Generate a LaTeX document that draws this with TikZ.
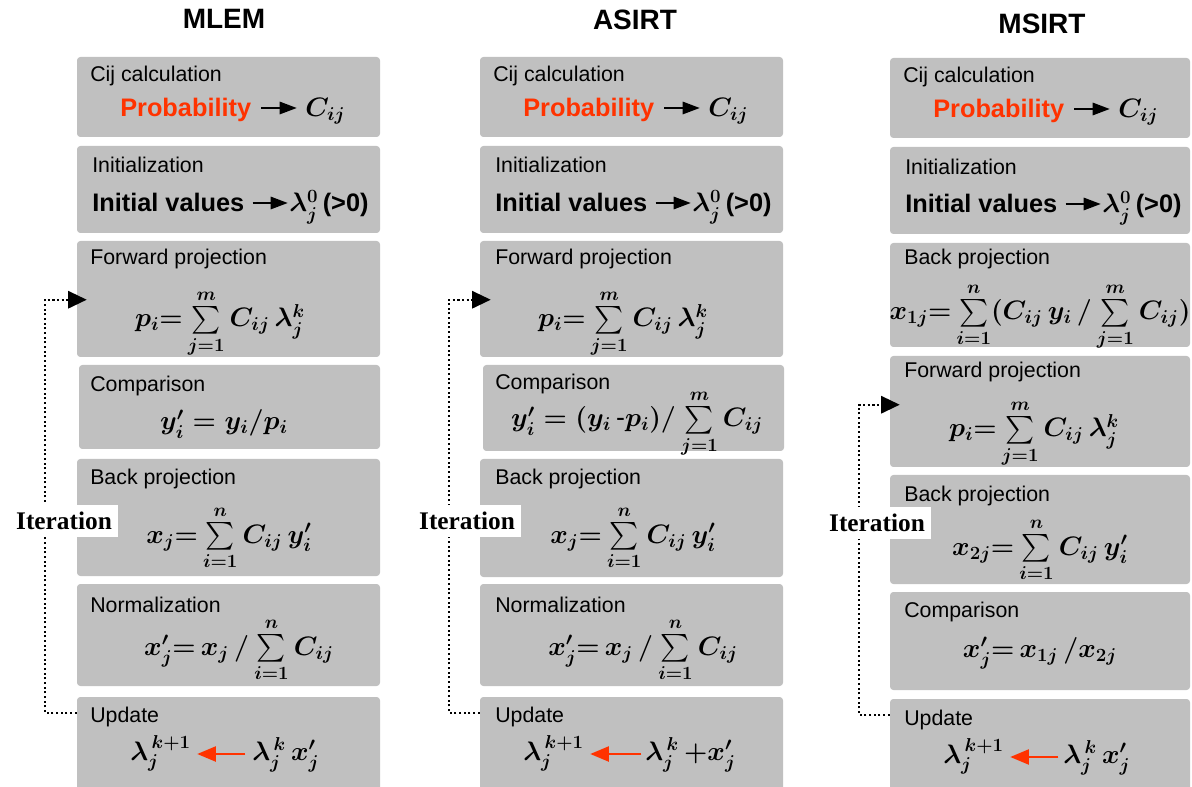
\RequirePackage{fix-cm}
\documentclass[tikz,border=0pt]{standalone}
\usepackage{exscale}
\usepackage{fontspec}
\setmainfont{Liberation Sans}
\newfontfamily\serifbold{Liberation Serif}
\usetikzlibrary{arrows.meta,calc,fit}
\definecolor{boxgray}{RGB}{192,192,192}
\definecolor{hired}{RGB}{255,51,0}
\begin{document}
\begin{tikzpicture}[x=0.75pt,y=-0.75pt,
 box/.style={fill=boxgray, rounded corners=2.5pt, inner sep=0pt, draw=none},
 lbl/.style={anchor=base west, inner sep=0pt, font=\fontsize{16}{19}\selectfont},
 ttl/.style={inner sep=0pt, font=\fontsize{21}{25}\selectfont\bfseries},
 kw/.style={anchor=base west, inner sep=0pt, font=\fontsize{19}{23}\selectfont\bfseries},
 fml/.style={anchor=base, inner sep=0pt, font=\fontsize{20}{24}\selectfont\boldmath},
 fmlw/.style={fml, anchor=base west},
 barrow/.style={-{Triangle[length=13pt,width=9pt]}, line width=2.2pt},
 rarrow/.style={-{Triangle[length=14pt,width=11pt]}, line width=2.2pt, draw=hired, fill=hired},
 loop/.style={line width=1.6pt, dash pattern=on 1.6pt off 1.9pt, -{Triangle[length=14pt,width=13pt]}},
 iter/.style={fill=white, inner sep=0pt, minimum width=81pt, minimum height=24pt, font={\serifbold\bfseries\fontsize{19}{22}\selectfont}}
]
\useasboundingbox (0,0) rectangle (1192,787);
\clip (0,0) rectangle (1192,787);

% titles
\node[ttl] (t1) at (224,19) {MLEM};
\node[ttl] (t2) at (635,20) {ASIRT};
\node[ttl] (t3) at (1042,24) {MSIRT};

% ---------- column 1 : MLEM ----------
\node[box, fit={(77,57) (380,137)}] (a1) {};
\node[box, fit={(77,146) (380,233)}] (a2) {};
\node[box, fit={(77,241) (380,357)}] (a3) {};
\node[box, fit={(79,365) (380,449)}] (a4) {};
\node[box, fit={(77,459) (380,576)}] (a5) {};
\node[box, fit={(77,584) (380,686)}] (a6) {};
\node[box, fit={(77,697) (380,800)}] (a7) {};

\node[lbl] (a1t) at (90,82) {Cij calculation};
\node[lbl] (a2t) at (92,173) {Initialization};
\node[lbl] (a3t) at (90,265) {Forward projection};
\node[lbl] (a4t) at (90,392) {Comparison};
\node[lbl] (a5t) at (90,485) {Back projection};
\node[lbl] (a6t) at (90,612) {Normalization};
\node[lbl] (a7t) at (90,722) {Update};

\node[kw, text=hired] (a1p) at (120,117) {Probability};
\node[fmlw] (a1c) at (305,117) {$C_{ij}$};
\draw[barrow] ($(a1p.base east)+(10,-9)$) -- ($(a1c.base west)+(-8,-9)$);
\node[kw] (a2i) at (92,212) {Initial values};
\node[fmlw] (a2l) at (289,212) {$\lambda_j^{0}$\,{\bfseries\fontsize{19}{23}\selectfont(>0)}};
\draw[barrow] ($(a2i.base east)+(8,-9)$) -- ($(a2l.base west)+(-1,-9)$);
\node[fml] (a3f) at (220,327) {$p_i{=}\sum\limits_{j=1}^{m}C_{ij}\,\lambda_j^{k}$};
\node[fml] (a4f) at (224,430) {$y'_i = y_i/p_i$};
\node[fml] (a5f) at (229,543) {$x_j{=}\sum\limits_{i=1}^{n}C_{ij}\,y'_i$};
\node[fml] (a6f) at (239,655) {$x'_j{=}\,x_j\,/\sum\limits_{i=1}^{n}C_{ij}$};
\node[fmlw] (a7l) at (130,760) {$\lambda_j^{\,k+1}$};
\node[fmlw] (a7r) at (252,760) {$\lambda_j^{\,k}\,x'_j$};
\draw[rarrow] ($(a7r.base west)+(-7,-6)$) -- ($(a7l.base east)+(6,-6)$);

\draw[loop] ($(a7.north west)+(0,16)$) -| ($(a3.north west)+(-32,59)$) -- ($(a3.north west)+(10,59)$);
\node[iter] (a8) at (64,521) {Iteration};

% ---------- column 2 : ASIRT ----------
\node[box, fit={(480,57) (783,137)}] (b1) {};
\node[box, fit={(480,146) (783,233)}] (b2) {};
\node[box, fit={(480,241) (783,357)}] (b3) {};
\node[box, fit={(483,365) (784,451)}] (b4) {};
\node[box, fit={(480,459) (783,577)}] (b5) {};
\node[box, fit={(480,584) (783,686)}] (b6) {};
\node[box, fit={(480,697) (783,800)}] (b7) {};

\node[lbl] (b1t) at (493,82) {Cij calculation};
\node[lbl] (b2t) at (495,173) {Initialization};
\node[lbl] (b3t) at (495,265) {Forward projection};
\node[lbl] (b4t) at (495,390) {Comparison};
\node[lbl] (b5t) at (495,485) {Back projection};
\node[lbl] (b6t) at (495,612) {Normalization};
\node[lbl] (b7t) at (495,722) {Update};

\node[kw, text=hired] (b1p) at (523,117) {Probability};
\node[fmlw] (b1c) at (708,117) {$C_{ij}$};
\draw[barrow] ($(b1p.base east)+(10,-9)$) -- ($(b1c.base west)+(-8,-9)$);
\node[kw] (b2i) at (495,212) {Initial values};
\node[fmlw] (b2l) at (692,212) {$\lambda_j^{0}$\,{\bfseries\fontsize{19}{23}\selectfont(>0)}};
\draw[barrow] ($(b2i.base east)+(8,-9)$) -- ($(b2l.base west)+(-1,-9)$);
\node[fml] (b3f) at (623,327) {$p_i{=}\sum\limits_{j=1}^{m}C_{ij}\,\lambda_j^{k}$};
\node[fml] (b4f) at (637,427) {$y'_i = (y_i\,\mbox{-}p_i)/\sum\limits_{j=1}^{m}C_{ij}$};
\node[fml] (b5f) at (633,543) {$x_j{=}\sum\limits_{i=1}^{n}C_{ij}\,y'_i$};
\node[fml] (b6f) at (643,655) {$x'_j{=}\,x_j\,/\sum\limits_{i=1}^{n}C_{ij}$};
\node[fmlw] (b7l) at (523,760) {$\lambda_j^{\,k+1}$};
\node[fmlw] (b7r) at (645,760) {$\lambda_j^{\,k}\,{+}x'_j$};
\draw[rarrow] ($(b7r.base west)+(-4,-6)$) -- ($(b7l.base east)+(6,-6)$);

\draw[loop] ($(b7.north west)+(0,16)$) -| ($(b3.north west)+(-31,59)$) -- ($(b3.north west)+(11,59)$);
\node[iter] (b8) at (467,521) {Iteration};

% ---------- column 3 : MSIRT ----------
\node[box, fit={(890,58) (1190,138)}] (c1) {};
\node[box, fit={(890,147) (1190,234)}] (c2) {};
\node[box, fit={(890,243) (1190,347)}] (c3) {};
\node[box, fit={(890,356) (1190,467)}] (c4) {};
\node[box, fit={(890,475) (1190,584)}] (c5) {};
\node[box, fit={(890,592) (1190,690)}] (c6) {};
\node[box, fit={(890,699) (1190,800)}] (c7) {};

\node[lbl] (c1t) at (903,83) {Cij calculation};
\node[lbl] (c2t) at (905,175) {Initialization};
\node[lbl] (c3t) at (904,265) {Back projection};
\node[lbl] (c4t) at (904,378) {Forward projection};
\node[lbl] (c5t) at (904,502) {Back projection};
\node[lbl] (c6t) at (904,617) {Comparison};
\node[lbl] (c7t) at (904,725) {Update};

\node[kw, text=hired] (c1p) at (933,118) {Probability};
\node[fmlw] (c1c) at (1118,118) {$C_{ij}$};
\draw[barrow] ($(c1p.base east)+(10,-9)$) -- ($(c1c.base west)+(-8,-9)$);
\node[kw] (c2i) at (905,213) {Initial values};
\node[fmlw] (c2l) at (1102,213) {$\lambda_j^{0}$\,{\bfseries\fontsize{19}{23}\selectfont(>0)}};
\draw[barrow] ($(c2i.base east)+(8,-9)$) -- ($(c2l.base west)+(-1,-9)$);
\node[fml] (c3f) at (1040,320) {$x_{1j}{=}\sum\limits_{i=1}^{n}(C_{ij}\,y_i\,/\sum\limits_{j=1}^{m}C_{ij})$};
\node[fml] (c4f) at (1034,437) {$p_i{=}\sum\limits_{j=1}^{m}C_{ij}\,\lambda_j^{k}$};
\node[fml] (c5f) at (1040,555) {$x_{2j}{=}\sum\limits_{i=1}^{n}C_{ij}\,y'_i$};
\node[fml] (c6f) at (1040,657) {$x'_j{=}\,x_{1j}\,/x_{2j}$};
\node[fmlw] (c7l) at (943,763) {$\lambda_j^{\,k+1}$};
\node[fmlw] (c7r) at (1063,763) {$\lambda_j^{\,k}\,x'_j$};
\draw[rarrow] ($(c7r.base west)+(-5,-6)$) -- ($(c7l.base east)+(6,-6)$);

\draw[loop] ($(c7.north west)+(0,16)$) -| ($(c4.north west)+(-31,49)$) -- ($(c4.north west)+(10,49)$);
\node[iter] (c8) at (877,523) {Iteration};
\end{tikzpicture}
\end{document}
